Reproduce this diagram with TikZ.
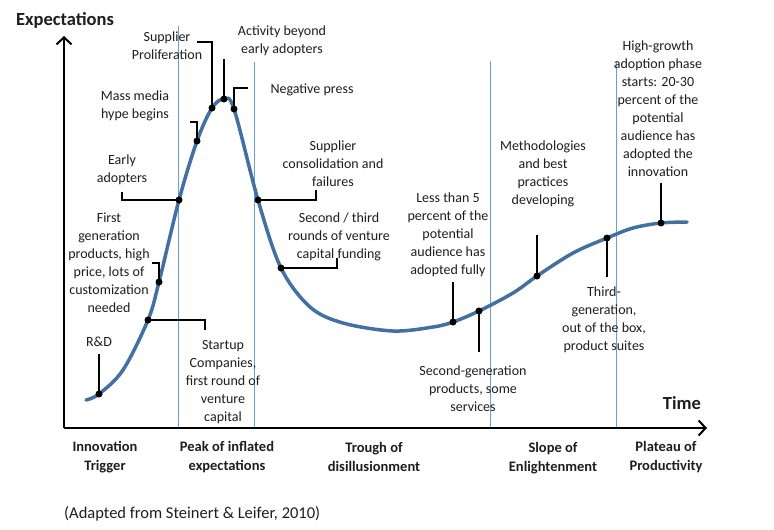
\documentclass[tikz,border=0pt]{standalone}
\usepackage{fontspec}
\setmainfont{Carlito}
\usetikzlibrary{arrows.meta}
\definecolor{cblue}{RGB}{66,112,162}
\definecolor{vblue}{RGB}{100,160,220}
\definecolor{txt}{RGB}{30,30,30}
\begin{document}
\begin{tikzpicture}[x=1pt,y=-1pt,
  lbl/.style={align=center, font=\fontsize{14}{18}\selectfont, inner sep=0, text=txt},
  phase/.style={align=center, font=\bfseries\fontsize{14.5}{19}\selectfont, inner sep=0, text=txt},
  axlbl/.style={font=\bfseries\fontsize{18.5}{22}\selectfont, inner sep=0, text=txt},
  lead/.style={line width=1.8, black},
  dotn/.style={circle, fill=black, inner sep=0, minimum size=7},
  vline/.style={draw=vblue, line width=0.9},
  curveline/.style={draw=cblue, line width=3.5, line cap=round},
  axis/.style={line width=2, black, -{Straight Barb[length=7,width=15,line width=2]}}]
\useasboundingbox[fill=white] (0,0) rectangle (774,530);

% vertical phase lines
\coordinate (v1t) at (178,26);  \coordinate (v1b) at (178,428);
\coordinate (v2t) at (254,62);  \coordinate (v2b) at (254,428);
\coordinate (v3t) at (490,61);  \coordinate (v3b) at (490,428);
\coordinate (v4t) at (616,62);  \coordinate (v4b) at (616,428);
\draw[vline] (v1t) -- (v1b);
\draw[vline] (v2t) -- (v2b);
\draw[vline] (v3t) -- (v3b);
\draw[vline] (v4t) -- (v4b);

% axes
\coordinate (O) at (64,428);
\coordinate (Ytop) at (64,36);
\coordinate (Xend) at (707,428);
\draw[axis] (O) -- (Ytop);
\draw[axis] (O) -- (Xend);
\node[axlbl] (ylab) at (65,20) {Expectations};
\node[axlbl] (xlab) at (682,403) {Time};

% curve points
\coordinate (dRD) at (99,394);
\coordinate (dSU) at (148,320);
\coordinate (dFG) at (159,282);
\coordinate (dEA) at (179,200);
\coordinate (dMM) at (197,141);
\coordinate (dSP) at (212,108);
\coordinate (dAB) at (224,99);
\coordinate (dNP) at (234,109);
\coordinate (dSC) at (258,200);
\coordinate (dST) at (281,268);
\coordinate (dLT) at (453,322);
\coordinate (dSG) at (479,311);
\coordinate (dMB) at (537,276);
\coordinate (dTG) at (607,238);
\coordinate (dHG) at (661,223);

\draw[curveline] plot[smooth, tension=0.55] coordinates {(86,400) (dRD) (123,370) (dSU) (dFG) (dEA) (dMM) (dSP) (dAB) (dNP) (dSC) (dST) (310,307) (343,323) (393,331) (433,327) (dLT) (dSG) (513,293) (dMB) (573,253) (dTG) (633,228) (dHG) (687,222)};

% leader end points
\coordinate (eRD) at (99,354);
\coordinate (eSU1) at (205,320); \coordinate (eSU) at (205,330);
\coordinate (eFG1) at (159,263); \coordinate (eFG) at (152,263);
\coordinate (eEA1) at (122,200); \coordinate (eEA) at (122,192);
\coordinate (eMM1) at (197,122); \coordinate (eMM) at (190,122);
\coordinate (eSP1) at (212,42);  \coordinate (eSP) at (197,42);
\coordinate (eAB) at (224,59);
\coordinate (eNP1) at (234,88);  \coordinate (eNP) at (248,88);
\coordinate (eSC1) at (316,200); \coordinate (eSC) at (316,190);
\coordinate (eST1) at (337,268); \coordinate (eST) at (337,258);
\coordinate (eLT) at (453,282);
\coordinate (eSG) at (479,352);
\coordinate (eMB) at (537,235);
\coordinate (eTG) at (607,277);
\coordinate (eHG) at (661,183);

\draw[lead] (dRD) -- (eRD);
\draw[lead] (dSU) -- (eSU1) -- (eSU);
\draw[lead] (dFG) -- (eFG1) -- (eFG);
\draw[lead] (dEA) -- (eEA1) -- (eEA);
\draw[lead] (dMM) -- (eMM1) -- (eMM);
\draw[lead] (dSP) -- (eSP1) -- (eSP);
\draw[lead] (dAB) -- (eAB);
\draw[lead] (dNP) -- (eNP1) -- (eNP);
\draw[lead] (dSC) -- (eSC1) -- (eSC);
\draw[lead] (dST) -- (eST1) -- (eST);
\draw[lead] (dLT) -- (eLT);
\draw[lead] (dSG) -- (eSG);
\draw[lead] (dMB) -- (eMB);
\draw[lead] (dTG) -- (eTG);
\draw[lead] (dHG) -- (eHG);

% dots
\foreach \p in {dRD,dSU,dFG,dEA,dMM,dSP,dAB,dNP,dSC,dST,dLT,dSG,dMB,dTG,dHG}
  \node[dotn] (n\p) at (\p) {};

% labels
\node[lbl] (tRD) at (99,342) {R\&D};
\node[lbl] (tSU) at (223,382.5) {Startup\\Companies,\\first round of\\venture\\capital};
\node[lbl] (tFG) at (109,263) {First\\generation\\products, high\\price, lots of\\customization\\needed};
\node[lbl] (tEA) at (122,170) {Early\\adopters};
\node[lbl] (tMM) at (135,105.5) {Mass media\\hype begins};
\node[lbl] (tSP) at (167,45.5) {Supplier\\Proliferation};
\node[lbl] (tAB) at (282,41) {Activity beyond\\early adopters};
\node[lbl] (tNP) at (312,90) {Negative press};
\node[lbl] (tSC) at (333,163.5) {Supplier\\consolidation and\\failures};
\node[lbl] (tST) at (339,237) {Second / third\\rounds of venture\\capital funding};
\node[lbl] (tLT) at (448,235) {Less than 5\\percent of the\\potential\\audience has\\adopted fully};
\node[lbl] (tSG) at (473,388.5) {Second-generation\\products, some\\services};
\node[lbl] (tMB) at (543,174) {Methodologies\\and best\\practices\\developing};
\node[lbl] (tTG) at (604,320) {Third-\\generation,\\out of the box,\\product suites};
\node[lbl] (tHG) at (658,109) {High-growth\\adoption phase\\starts: 20-30\\percent of the\\potential\\audience has\\adopted the\\innovation};

% phases
\node[phase] (p1) at (105,457.5) {Innovation\\Trigger};
\node[phase] (p2) at (227,457.5) {Peak of inflated\\expectations};
\node[phase] (p3) at (374,457) {Trough of\\disillusionment};
\node[phase] (p4) at (553,458.5) {Slope of\\Enlightenment};
\node[phase] (p5) at (666,457.5) {Plateau of\\Productivity};

% caption
\node[anchor=west, inner sep=0, text=txt, font=\fontsize{16.5}{19}\selectfont] (cap) at (64,514) {(Adapted from Steinert \& Leifer, 2010)};
\end{tikzpicture}
\end{document}
